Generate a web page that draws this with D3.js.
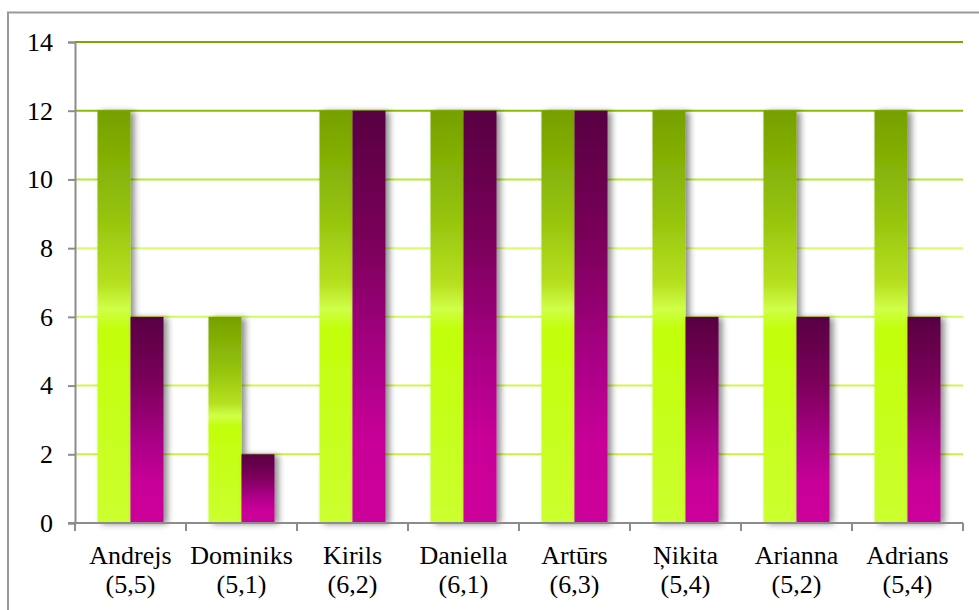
<!DOCTYPE html>
<html>
<head>
<meta charset="utf-8">
<script src="https://cdnjs.cloudflare.com/ajax/libs/d3/7.8.5/d3.min.js"></script>
<style>
  body { margin: 0; background: #fff; }
  svg { display: block; }
</style>
</head>
<body>
<div class="chart"></div>
<script>
var names = ["Andrejs", "Dominiks", "Kirils", "Daniella", "Artūrs", "Ņikita", "Arianna", "Adrians"];
var scores = ["(5,5)", "(5,1)", "(6,2)", "(6,1)", "(6,3)", "(5,4)", "(5,2)", "(5,4)"];
var greenVals = [12, 6, 12, 12, 12, 12, 12, 12];
var pinkVals = [6, 2, 12, 12, 12, 6, 6, 6];
var yTicks = [0, 2, 4, 6, 8, 10, 12, 14];

var width = 979, height = 610;
// plot area edges (note: "top" is reserved on window, so use plotTop)
var plotLeft = 75, plotRight = 963, plotTop = 42, plotBottom = 523;
var serif = 'Liberation Serif';

var svg = d3.select('.chart').append('svg').attr('width', width).attr('height', height);
var defs = svg.append('defs');

// gradients for the bars
var gGreen = defs.append('linearGradient').attr('id', 'gGreen').attr('x1', 0).attr('y1', 0).attr('x2', 0).attr('y2', 1);
[[0, '#76a000'], [0.25, '#94c20c'], [0.42, '#b6e020'], [0.48, '#d0ff48'], [0.53, '#c2ff0a'], [1, '#ccff30']].forEach(function (s) {
  gGreen.append('stop').attr('offset', s[0]).attr('stop-color', s[1]);
});
var gPink = defs.append('linearGradient').attr('id', 'gPink').attr('x1', 0).attr('y1', 0).attr('x2', 0).attr('y2', 1);
[[0, '#580042'], [0.3, '#780058'], [0.62, '#ac0088'], [0.8, '#c80098'], [1, '#cc009a']].forEach(function (s) {
  gPink.append('stop').attr('offset', s[0]).attr('stop-color', s[1]);
});

// shadow
var f = defs.append('filter').attr('id', 'shadow').attr('x', '-20%').attr('y', '-10%').attr('width', '160%').attr('height', '130%');
f.append('feDropShadow').attr('dx', 4).attr('dy', 1).attr('stdDeviation', 3).attr('flood-color', '#000').attr('flood-opacity', 0.45);

// outer frame
svg.append('rect').attr('x', 8).attr('y', 12.5).attr('width', 1000).attr('height', 700)
  .attr('fill', 'none').attr('stroke', '#999').attr('stroke-width', 2);

var yScale = d3.scaleLinear().domain([0, 14]).range([plotBottom, plotTop]);
var x0 = d3.scaleBand().domain(names).range([plotLeft, plotRight]);
var x1 = d3.scaleBand().domain(['g', 'p']).range([22.5, x0.bandwidth() - 22.5]);

// gridline colours darken towards the top
var gridColor = d3.scaleLinear().domain([2, 8, 10, 12, 14])
  .range(['#ccf040', '#d6ff6a', '#b8e838', '#8cbc00', '#7aa600']);

svg.append('g').selectAll('line').data(yTicks.filter(function (d) { return d > 0; })).enter().append('line')
  .attr('x1', plotLeft).attr('x2', plotRight)
  .attr('y1', function (d) { return yScale(d); }).attr('y2', function (d) { return yScale(d); })
  .attr('stroke', function (d) { return gridColor(d); }).attr('stroke-width', 2);

// bars
var groups = svg.append('g').selectAll('g').data(names).enter().append('g')
  .attr('transform', function (d) { return 'translate(' + x0(d) + ',0)'; });

groups.append('rect').attr('class', 'bar')
  .attr('x', x1('g')).attr('width', x1.bandwidth())
  .attr('y', function (d, i) { return yScale(greenVals[i]); })
  .attr('height', function (d, i) { return yScale(0) - yScale(greenVals[i]); })
  .attr('fill', 'url(#gGreen)').attr('filter', 'url(#shadow)');

groups.append('rect').attr('class', 'bar')
  .attr('x', x1('p')).attr('width', x1.bandwidth())
  .attr('y', function (d, i) { return yScale(pinkVals[i]); })
  .attr('height', function (d, i) { return yScale(0) - yScale(pinkVals[i]); })
  .attr('fill', 'url(#gPink)').attr('filter', 'url(#shadow)');

// y axis
var yAxis = d3.axisLeft(yScale).tickValues(yTicks).tickSize(7).tickPadding(15);
var ySVG = svg.append('g').attr('transform', 'translate(' + plotLeft + ',0)').call(yAxis)
  .attr('font-family', serif).attr('font-size', 26);
ySVG.selectAll('.domain, line').attr('stroke', '#8c8c8c').attr('stroke-width', 2);
ySVG.selectAll('text').attr('fill', '#000');

// x axis
svg.append('line').attr('x1', plotLeft - 7).attr('x2', plotRight).attr('y1', plotBottom).attr('y2', plotBottom)
  .attr('stroke', '#8c8c8c').attr('stroke-width', 2);
var edges = names.map(function (d) { return x0(d); }).concat([plotRight]);
svg.append('g').selectAll('line').data(edges).enter().append('line')
  .attr('x1', function (d) { return d; }).attr('x2', function (d) { return d; })
  .attr('y1', plotBottom).attr('y2', plotBottom + 8)
  .attr('stroke', '#8c8c8c').attr('stroke-width', 2);

var labels = svg.append('g').attr('font-family', serif).attr('font-size', 26)
  .selectAll('text').data(names).enter().append('text')
  .attr('x', function (d) { return x0(d) + x0.bandwidth() / 2; })
  .attr('text-anchor', 'middle');
labels.append('tspan').attr('x', function (d) { return x0(d) + x0.bandwidth() / 2; }).attr('y', 564)
  .text(function (d) { return d; });
labels.append('tspan').attr('x', function (d) { return x0(d) + x0.bandwidth() / 2; }).attr('y', 593)
  .text(function (d, i) { return scores[i]; });
</script>
</body>
</html>
